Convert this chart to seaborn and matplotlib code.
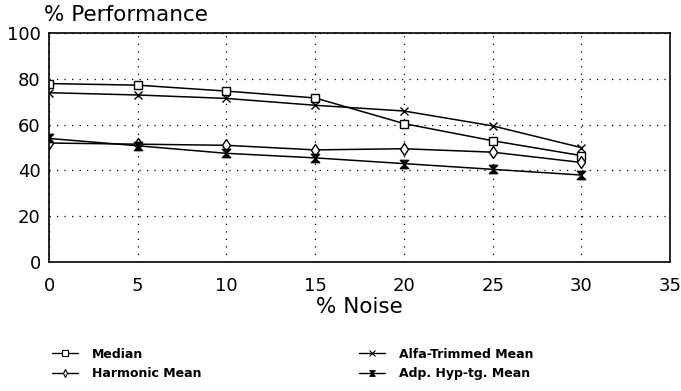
import numpy as np
import pandas as pd
import seaborn as sns
import matplotlib.pyplot as plt
from matplotlib.path import Path
from matplotlib.lines import Line2D

noise = [0, 5, 10, 15, 20, 25, 30]
median = [78, 77.3, 74.7, 71.7, 60.5, 53, 46.5]
harmonic = [52, 51.5, 51, 49, 49.5, 48, 43.5]
alfa = [74, 73, 71.5, 68.5, 66, 59.5, 50]
adp = [54, 50.8, 47.5, 45.5, 43, 40.5, 38]
series = ["Median", "Harmonic Mean", "Alfa-Trimmed Mean", "Adp. Hyp-tg. Mean"]
xticks = [0, 5, 10, 15, 20, 25, 30, 35]
yticks = [0, 20, 40, 60, 80, 100]

df = pd.DataFrame({
    "noise": noise * 4,
    "perf": median + harmonic + alfa + adp,
    "series": sum([[s] * len(noise) for s in series], []),
})

sns.set_theme(style="white")
plt.rcParams["font.family"] = ["DejaVu Sans"]
plt.rcParams["text.color"] = "black"

hourglass = Path([(-1, 1), (1, 1), (-1, -1), (1, -1), (-1, 1)],
                 [Path.MOVETO, Path.LINETO, Path.LINETO, Path.LINETO, Path.CLOSEPOLY])
markers = {"Median": "s", "Harmonic Mean": "d", "Alfa-Trimmed Mean": "x",
           "Adp. Hyp-tg. Mean": hourglass}

fig = plt.figure(figsize=(6.81, 3.91), dpi=100)
ax = fig.add_axes([0.072, 0.33, 0.912, 0.585])

for s in series:
    sub = df[df["series"] == s]
    filled = s == "Adp. Hyp-tg. Mean"
    sns.lineplot(data=sub, x="noise", y="perf", ax=ax, color="black", lw=1.1,
                 marker=markers[s], markersize=6,
                 markerfacecolor="black" if filled else "white",
                 markeredgecolor="black", markeredgewidth=1.0, legend=False)

ax.set_xlim(0, 35)
ax.set_ylim(0, 100)
ax.set_xticks(xticks)
ax.set_yticks(yticks)
ax.tick_params(axis="x", direction="in", length=6, width=1, labelsize=13, pad=11, colors="black")
ax.tick_params(axis="y", direction="out", length=4, width=1, labelsize=13, pad=2, colors="black")
ax.grid(True, linestyle=(0, (1, 5)), color="black", linewidth=0.9)
for sp in ax.spines.values():
    sp.set_visible(True)
    sp.set_color("black")
    sp.set_linewidth(1.2)
ax.set_xlabel("% Noise", fontsize=15.5, labelpad=1, color="black")
ax.set_ylabel("")
fig.text(0.064, 0.937, "% Performance", fontsize=15.5, ha="left", va="bottom", color="black")

handles = []
for s in series:
    filled = s == "Adp. Hyp-tg. Mean"
    handles.append(Line2D([0], [0], color="black", lw=1.0, marker=markers[s], markersize=4,
                          markerfacecolor="black" if filled else "white",
                          markeredgecolor="black", markeredgewidth=0.8))
leg = fig.legend(handles, series, ncol=2, loc="upper left", bbox_to_anchor=(0.06, 0.14),
                 frameon=False, handlelength=2.1, handletextpad=1.1, columnspacing=12.6,
                 labelspacing=0.55, prop={"weight": "bold", "size": 9})
for t in leg.get_texts():
    t.set_color("black")

fig.savefig("out.png", dpi=100)
